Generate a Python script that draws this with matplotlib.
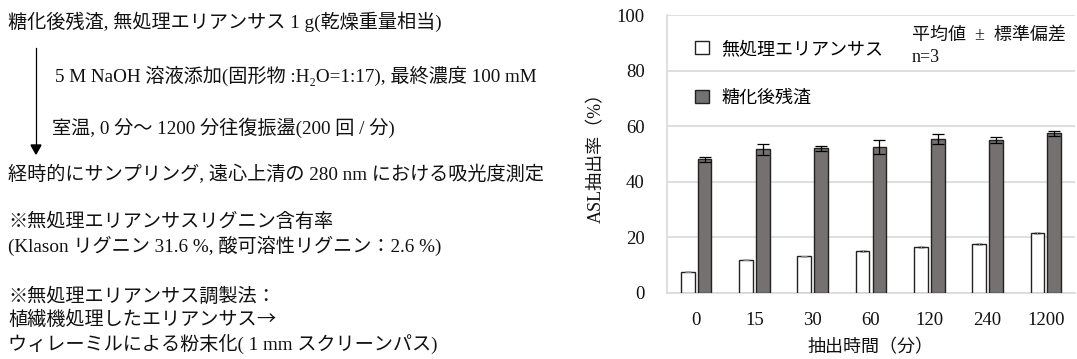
import numpy as np
import matplotlib
matplotlib.use("Agg")
from matplotlib import pyplot as plt
from matplotlib.patches import Patch

plt.rcParams['font.family'] = ['Liberation Serif', 'Noto Sans CJK JP', 'DejaVu Sans']

# 抽出時間（分）
times = ['0', '15', '30', '60', '120', '240', '1200']
# ASL抽出率（%）
untreated = [7.6, 11.9, 13.1, 15.0, 16.5, 17.5, 21.6]
untreated_sd = [0.2, 0.3, 0.2, 0.2, 0.3, 0.4, 0.3]
residue = [48.0, 51.6, 52.0, 52.5, 55.3, 55.0, 57.4]
residue_sd = [1.0, 2.1, 0.8, 2.5, 1.7, 1.2, 0.9]

label_untreated = '無処理エリアンサス'
label_residue = '糖化後残渣'

lines = [
    (8, 22, '糖化後残渣, 無処理エリアンサス 1 g(乾燥重量相当)'),
    (55, 76, '5 M NaOH 溶液添加(固形物 :H₂O=1:17), 最終濃度 100 mM'),
    (52, 128, '室温, 0 分～ 1200 分往復振盪(200 回 / 分)'),
    (8, 174, '経時的にサンプリング, 遠心上清の 280 nm における吸光度測定'),
    (8, 222, '※無処理エリアンサスリグニン含有率'),
    (8, 246, '(Klason リグニン 31.6 %, 酸可溶性リグニン：2.6 %)'),
    (8, 297, '※無処理エリアンサス調製法：'),
    (8, 320, '植繊機処理したエリアンサス'),
    (8, 344, 'ウィレーミルによる粉末化( 1 mm スクリーンパス)'),
]

W, H = 1077, 359
fig = plt.figure(figsize=(W / 100, H / 100), dpi=100)

for x, y, s in lines:
    fig.text(x / W, 1 - y / H, s, fontsize=13.8, va='center', ha='left', color='#111111')

# 「→」は和文フォントで
fig.canvas.draw()
r = fig.texts[7].get_window_extent()
fig.text(r.x1 / W, 1 - 320 / H, '→', fontsize=13.8, va='center', ha='left',
         family=['Noto Sans CJK JP'], color='#111111')

# 工程の矢印
fig.add_artist(plt.Line2D([36 / W, 36 / W], [1 - 48 / H, 1 - 150 / H], color='black', lw=0.9))
fig.add_artist(matplotlib.patches.FancyArrow(36 / W, 1 - 145 / H, 0, -9 / H, width=0,
                                             head_width=10 / W, head_length=9 / H,
                                             length_includes_head=True, color='black'))

ax = fig.add_axes([667 / W, 1 - 292.7 / H, 408 / W, 277.7 / H])
x = np.arange(len(times))
w = 0.235
off = 0.145
err_kw = dict(ecolor='black', elinewidth=0.9, capsize=4, capthick=0.9)
ax.bar(x - off, untreated, w, yerr=untreated_sd, color='white', edgecolor='#222222',
       linewidth=1.0, error_kw=dict(ecolor='#999999', elinewidth=0.6, capsize=2, capthick=0.6),
       zorder=3)
ax.bar(x + off, residue, w, yerr=residue_sd, color='#757171', edgecolor='#222222',
       linewidth=1.0, error_kw=err_kw, zorder=3)

ax.set_xlim(-0.5, 6.5)
ax.set_ylim(0, 100)
ax.set_yticks(range(0, 101, 20))
ax.set_xticks(x)
ax.set_xticklabels(times)
ax.tick_params(axis='both', length=0, labelsize=13.5, labelcolor='#111111')
ax.tick_params(axis='y', pad=16)
ax.tick_params(axis='x', pad=14)
ax.yaxis.grid(True, color='#d9d9d9', lw=1.2, zorder=0)
ax.set_axisbelow(True)
for side in ['top', 'right']:
    ax.spines[side].set_visible(False)
ax.spines['left'].set_color('#d9d9d9')
ax.spines['bottom'].set_color('#d9d9d9')
ax.spines['left'].set_linewidth(1.2)
ax.spines['bottom'].set_linewidth(1.2)

ax.set_ylabel('ASL抽出率（%）', fontsize=13, labelpad=8, color='#111111')
ax.set_xlabel('抽出時間（分）', fontsize=13, labelpad=7, color='#111111')

handles = [Patch(facecolor='white', edgecolor='#222222', lw=1.0, label=label_untreated),
           Patch(facecolor='#757171', edgecolor='#222222', lw=1.0, label=label_residue)]
ax.legend(handles=handles, loc='upper left', bbox_to_anchor=(0.03, 0.965), frameon=False,
          fontsize=13, handlelength=0.75, handleheight=0.75, handletextpad=0.7,
          labelspacing=1.75)

ax.text(912 / W, 1 - 35 / H, '平均値  ±  標準偏差', transform=fig.transFigure,
        fontsize=13, va='center', ha='left', color='#111111')
ax.text(912 / W, 1 - 57 / H, 'n=3', transform=fig.transFigure,
        fontsize=13, va='center', ha='left', color='#111111')

fig.savefig('out.png', dpi=100)
